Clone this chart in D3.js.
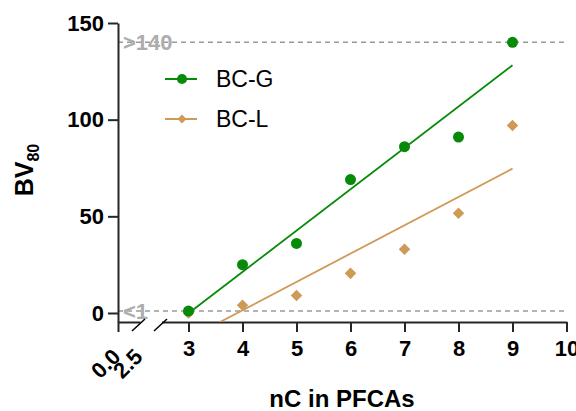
<!DOCTYPE html>
<html>
<head>
<meta charset="utf-8">
<script src="https://cdn.jsdelivr.net/npm/d3@7"></script>
<style>
  body { margin: 0; background: #fff; }
  svg { display: block; font-family: "Liberation Sans", Arial, sans-serif; }
</style>
</head>
<body>
<svg id="chart" width="576" height="411"></svg>
<script>
// chain length (x) and BV80 values
var nC = [3, 4, 5, 6, 7, 8, 9];
var bcG = [1, 25, 36, 69, 86, 91, 140];
var bcL = [0, 4, 9, 20.5, 33, 51.6, 97];
var seriesNames = ['BC-G', 'BC-L'];
var yTicks = [0, 50, 100, 150];
var xTicks = [3, 4, 5, 6, 7, 8, 9, 10];
var xBreakTicks = [0, 2.5];
var limitLines = [{ value: 140, label: '>140' }, { value: 1, label: '<1' }];

var green = '#078a07';
var tan = '#cf9a58';
var axisColor = '#262626';

var svg = d3.select('#chart');

var x = d3.scaleLinear().domain([2.5, 10]).range([161.5, 566.5]);
var xLeft = d3.scaleLinear().domain([0, 2.5]).range([118, 140]);
var y = d3.scaleLinear().domain([-4.66, 150]).range([322, 23]);

function fit(xs, ys) {
  var mx = d3.mean(xs), my = d3.mean(ys);
  var sxy = d3.sum(xs, (v, i) => (v - mx) * (ys[i] - my));
  var sxx = d3.sum(xs, v => (v - mx) * (v - mx));
  var slope = sxy / sxx;
  return { slope: slope, icept: my - slope * mx };
}

svg.append('clipPath').attr('id', 'plotClip')
  .append('rect').attr('x', 118).attr('y', 0).attr('width', 460).attr('height', 322);

// dashed limit lines
limitLines.forEach(function(d) {
  svg.append('line')
    .attr('x1', 118).attr('x2', 566)
    .attr('y1', y(d.value)).attr('y2', y(d.value))
    .style('stroke', '#9a9a9a')
    .style('stroke-width', 1.5)
    .style('stroke-dasharray', '5,4');
  svg.append('text')
    .attr('x', 123).attr('y', y(d.value))
    .attr('dy', '0.36em')
    .style('font-size', '22px')
    .style('font-weight', 'bold')
    .style('fill', '#adadad')
    .text(d.label);
});

// axes
var yAxis = svg.append('g')
  .attr('transform', 'translate(118,0)')
  .call(d3.axisLeft(y).tickValues(yTicks).tickSize(10).tickSizeOuter(0));

var xAxis = svg.append('g')
  .attr('transform', 'translate(0,322)')
  .call(d3.axisBottom(x).tickValues(xTicks).tickSize(10).tickSizeOuter(0).tickPadding(8));

var xAxisLeft = svg.append('g')
  .attr('transform', 'translate(0,322)')
  .call(d3.axisBottom(xLeft).tickValues([0]).tickSize(10).tickSizeOuter(0).tickFormat(''));

[yAxis, xAxis, xAxisLeft].forEach(function(g) {
  g.selectAll('path, line').style('stroke', axisColor).style('stroke-width', 2);
  g.selectAll('text')
    .style('font-size', '22px')
    .style('font-weight', 'bold')
    .style('fill', '#000')
    .style('font-family', '"Liberation Sans", Arial, sans-serif');
});
yAxis.selectAll('text').attr('x', -14);

// rotated labels of the short left segment
svg.selectAll('.breakLabel')
  .data(xBreakTicks)
  .enter().append('text')
  .attr('class', 'breakLabel')
  .attr('transform', d => 'translate(' + (xLeft(d) + 4) + ',358) rotate(-45)')
  .attr('text-anchor', 'end')
  .style('font-size', '22px')
  .style('font-weight', 'bold')
  .text(d => d3.format('.1f')(d));

// break marks
[141, 163].forEach(function(bx) {
  svg.append('line')
    .attr('x1', bx - 9).attr('y1', 331)
    .attr('x2', bx + 4).attr('y2', 319)
    .style('stroke', '#000')
    .style('stroke-width', 1.5);
});

// regression lines
var plot = svg.append('g').attr('clip-path', 'url(#plotClip)');
[[bcL, tan], [bcG, green]].forEach(function(s) {
  var f = fit(nC, s[0]);
  plot.append('line')
    .attr('x1', x(3)).attr('y1', y(f.icept + f.slope * 3))
    .attr('x2', x(9)).attr('y2', y(f.icept + f.slope * 9))
    .style('stroke', s[1])
    .style('stroke-width', 1.8);
});

// points
svg.selectAll('.lpt')
  .data(nC)
  .enter().append('path')
  .attr('class', 'lpt')
  .attr('d', d3.symbol().type(d3.symbolDiamond2).size(85))
  .attr('transform', (d, i) => 'translate(' + x(d) + ',' + y(bcL[i]) + ')')
  .style('fill', tan);

svg.selectAll('.gpt')
  .data(nC)
  .enter().append('circle')
  .attr('class', 'gpt')
  .attr('cx', d => x(d))
  .attr('cy', (d, i) => y(bcG[i]))
  .attr('r', 5.5)
  .style('fill', green);

// legend
var legend = svg.selectAll('.legend')
  .data(seriesNames)
  .enter().append('g')
  .attr('class', 'legend')
  .attr('transform', (d, i) => 'translate(165,' + (79 + i * 40) + ')');

legend.append('line')
  .attr('x1', 0).attr('x2', 32)
  .style('stroke', (d, i) => i === 0 ? green : tan)
  .style('stroke-width', 2);

legend.append('path')
  .attr('transform', 'translate(17,0)')
  .attr('d', (d, i) => i === 0
    ? d3.symbol().type(d3.symbolCircle).size(80)()
    : d3.symbol().type(d3.symbolDiamond2).size(50)())
  .style('fill', (d, i) => i === 0 ? green : tan);

legend.append('text')
  .attr('x', 51)
  .attr('dy', '0.36em')
  .style('font-size', '23px')
  .text(d => d);

// axis titles
svg.append('text')
  .attr('x', 342).attr('y', 407)
  .attr('text-anchor', 'middle')
  .style('font-size', '24px')
  .style('font-weight', 'bold')
  .text('nC in PFCAs');

var yTitle = svg.append('text')
  .attr('transform', 'translate(33,170) rotate(-90)')
  .attr('text-anchor', 'middle')
  .style('font-size', '25px')
  .style('font-weight', 'bold');
yTitle.append('tspan').text('BV');
yTitle.append('tspan').attr('dy', 6).style('font-size', '16px').text('80');
</script>
</body>
</html>
